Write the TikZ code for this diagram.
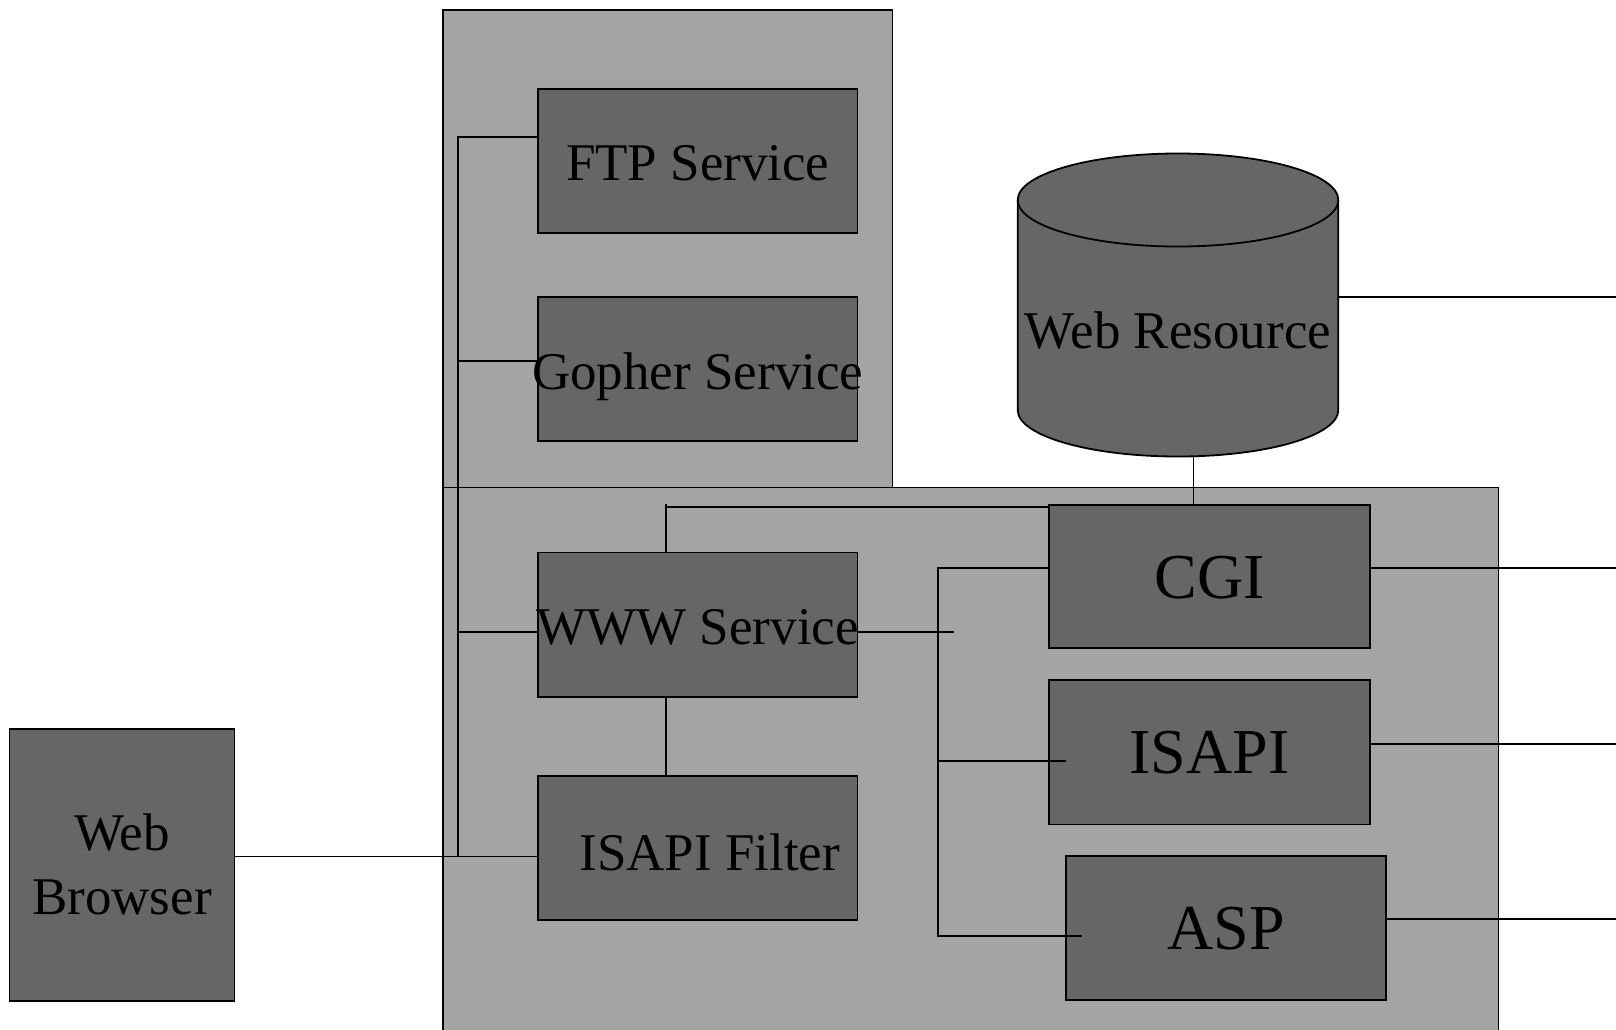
\documentclass[tikz,border=0pt]{standalone}
\usepackage{fontspec}
\setmainfont{Liberation Serif}
\definecolor{boxgray}{RGB}{102,102,102}
\definecolor{contgray}{RGB}{164,164,164}
\begin{document}
\begin{tikzpicture}[x=1pt,y=-1pt,line width=1.8pt,
  container/.style={draw=black,fill=contgray,rectangle,inner sep=0pt,anchor=north west},
  svcbox/.style={draw=black,fill=boxgray,rectangle,inner sep=0pt,text height=36pt,text depth=0pt,font=\fontsize{53}{64}\selectfont},
  bigbox/.style={svcbox,text height=43pt,font=\fontsize{64}{72}\selectfont},
  lbl/.style={inner sep=0pt,text height=36pt,text depth=0pt,font=\fontsize{53}{64}\selectfont},
  wire/.style={draw=black,line width=1.8pt}]
\useasboundingbox (0,0) rectangle (1616,1029);
\clip (0,0) rectangle (1616,1029);
\fill[white] (0,0) rectangle (1616,1029);

% containers
\node[container,minimum width=449.5,minimum height=477.5] (upper) at (442,9) {};
\node[container,minimum width=1055.5,minimum height=580] (lower) at (442,486.5) {};

% service boxes
\node[svcbox,minimum width=319.5,minimum height=144.4] (ftp) at (697.75,160.8) {\raisebox{-2pt}{FTP Service}};
\node[svcbox,minimum width=319.5,minimum height=144.4] (gopher) at (697.75,369) {\makebox[0pt]{\raisebox{-2pt}{Gopher Service}}};
\node[svcbox,minimum width=319.5,minimum height=144.4] (www) at (697.75,624.7) {\makebox[0pt]{\raisebox{-2pt}{WWW Service}}};
\node[svcbox,minimum width=319.5,minimum height=144.4] (filter) at (697.75,848) {\raisebox{-4pt}{\hspace*{24pt}ISAPI Filter}};
\node[draw=black,fill=boxgray,rectangle,inner sep=0pt,font=\fontsize{53}{64}\selectfont,
      minimum width=225,minimum height=271.7,align=center] (browser) at (122,864.8) {\raisebox{0pt}{}Web\\Browser};
\node[bigbox,minimum width=320.7,minimum height=143.2] (cgi) at (1209.5,576.6) {CGI};
\node[bigbox,minimum width=320.7,minimum height=144.3] (isapi) at (1209.5,752.3) {ISAPI};
\node[bigbox,minimum width=320.6,minimum height=143.3] (asp) at (1226,928) {ASP};

% cylinder (Web Resource)
\filldraw[fill=boxgray,draw=black] (1017.7,200) -- (1017.7,410)
  arc[start angle=180,end angle=0,x radius=160.3,y radius=46.5]
  -- (1338.3,200)
  arc[start angle=0,end angle=-180,x radius=160.3,y radius=46.5] -- cycle;
\draw (1017.7,200) arc[start angle=180,end angle=0,x radius=160.3,y radius=46.5];
\node[lbl] (res) at (1178,330) {Web Resource};
\coordinate (resR) at (1338.3,296.8);
\coordinate (resB) at (1193.4,456.5);

% left bus
\coordinate (busL) at (458,137);
\draw[wire] (ftp.west |- busL) -- (busL) -- (458,856.5);
\draw[wire] (458,360.7) -- (gopher.west |- 0,360.7);
\draw[wire] (458,632) -- (www.west |- 0,632);
\draw[wire] (browser.east |- 0,856.5) -- (filter.west |- 0,856.5);

% WWW links
\coordinate (wv) at (665.7,0);
\coordinate (wtop) at (665.7,506.7);
\draw[wire] (www.north -| wv) -- (665.7,504) (wtop) -- (cgi.west |- wtop);
\draw[wire] (www.south -| wv) -- (filter.north -| wv);
\draw[wire] (www.east |- 0,632) -- (954.3,632);

% right bus
\coordinate (busR) at (937.8,567.9);
\draw[wire] (cgi.west |- busR) -- (busR) -- (937.8,935.8) -- (1082,935.8);
\draw[wire] (937.8,760.6) -- (1065.6,760.6);

% outgoing lines
\coordinate (edgeR) at (1616,0);
\draw[wire] (cgi.east |- busR) -- (edgeR |- busR);
\draw[wire] (isapi.east |- 0,744.1) -- (1616,744.1);
\draw[wire] (asp.east |- 0,919.3) -- (1616,919.3);
\draw[wire] (resR) -- (edgeR |- resR);
\draw[wire] (resB) -- (cgi.north -| resB);
\end{tikzpicture}
\end{document}
